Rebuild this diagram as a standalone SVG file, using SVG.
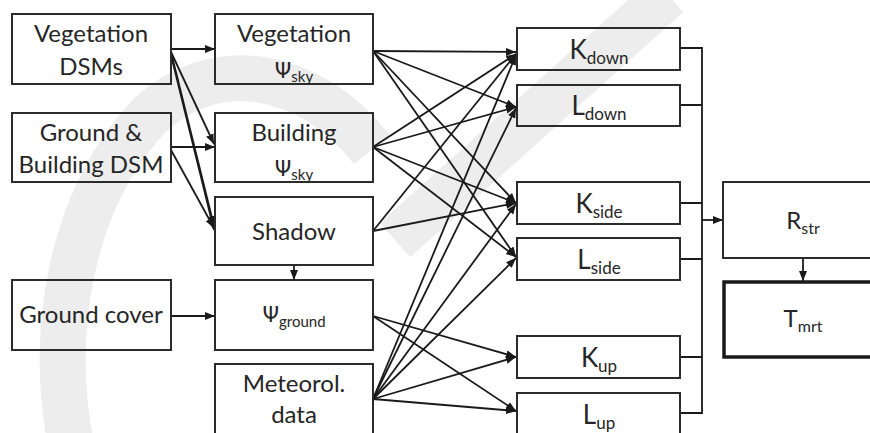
<svg xmlns="http://www.w3.org/2000/svg" width="870" height="433" viewBox="0 0 870 433">
<defs>
<style>
.box{fill:none;stroke:#2b2b2b;stroke-width:2}
.thick{fill:none;stroke:#1a1a1a;stroke-width:3.5}
.t{font-family:Lato,"Noto Sans",sans-serif;font-size:24px;fill:#262626;text-anchor:middle}
.r{font-size:26px}
.s{font-size:24px}
.psi{font-family:"DejaVu Sans","Noto Sans",sans-serif;font-size:21px}
.sub{font-family:Lato,"Noto Sans",sans-serif;font-size:15px}
.wm{fill:none;stroke:#ededed;stroke-width:46}
.c{fill:none;stroke:#1a1a1a;stroke-width:1.8}
.ca{fill:none;stroke:#1a1a1a;stroke-width:1.8;marker-end:url(#ah)}
</style>
<marker id="ah" markerUnits="userSpaceOnUse" markerWidth="11" markerHeight="10" refX="10" refY="5" orient="auto">
<path d="M0,1 L10,5 L0,9 Z" fill="#1a1a1a"/>
</marker>
</defs>
<rect width="870" height="433" fill="#ffffff"/>
<g id="watermark">
<path class="wm" d="M 70 440 C 50 330 70 200 150 115 C 215 55 310 70 372 150"/>
<path class="wm" d="M 668 -5 L 395 240"/>
</g>
<g id="connectors">
<line class="ca" x1="171" y1="49" x2="215" y2="49"/>
<line class="ca" x1="171" y1="52" x2="214" y2="144"/>
<line class="ca" x1="171" y1="52" x2="214" y2="226"/>
<line class="ca" x1="171" y1="55" x2="214" y2="230"/>
<line class="ca" x1="171" y1="147" x2="215" y2="147"/>
<line class="ca" x1="171" y1="150" x2="214" y2="228"/>
<line class="ca" x1="294" y1="265" x2="294" y2="280"/>
<line class="ca" x1="171" y1="316" x2="215" y2="316"/>
<line class="ca" x1="373" y1="51" x2="516" y2="52"/>
<line class="ca" x1="373" y1="51" x2="516" y2="107"/>
<line class="ca" x1="373" y1="51" x2="516" y2="203"/>
<line class="ca" x1="373" y1="51" x2="516" y2="257"/>
<line class="ca" x1="373" y1="147" x2="516" y2="54"/>
<line class="ca" x1="373" y1="147" x2="516" y2="107"/>
<line class="ca" x1="373" y1="147" x2="516" y2="203"/>
<line class="ca" x1="373" y1="147" x2="516" y2="257"/>
<line class="ca" x1="373" y1="231" x2="516" y2="54"/>
<line class="ca" x1="373" y1="231" x2="516" y2="203"/>
<line class="ca" x1="373" y1="316" x2="516" y2="357"/>
<line class="ca" x1="373" y1="316" x2="516" y2="411"/>
<line class="ca" x1="373" y1="399" x2="516" y2="55"/>
<line class="ca" x1="373" y1="399" x2="516" y2="108"/>
<line class="ca" x1="373" y1="399" x2="516" y2="204"/>
<line class="ca" x1="373" y1="399" x2="516" y2="258"/>
<line class="ca" x1="373" y1="399" x2="516" y2="357"/>
<line class="ca" x1="373" y1="399" x2="516" y2="411"/>
<path class="c" d="M680 48 H702 M680 105 H702 M680 203 H702 M680 259 H702 M680 357 H702 M680 413 H702 M702 47 V414"/>
<line class="ca" x1="702" y1="220" x2="723" y2="220"/>
<line class="ca" x1="803" y1="258" x2="803" y2="281"/>
</g>
<g id="veg-dsms">
<rect class="box" x="12" y="14" width="159" height="70"/>
<text class="t" x="91" y="42">Vegetation</text>
<text class="t" x="91" y="75">DSMs</text>
</g>
<g id="ground-building-dsm">
<rect class="box" x="12" y="113" width="159" height="69"/>
<text class="t" x="91" y="141">Ground &amp;</text>
<text class="t" x="91" y="173">Building DSM</text>
</g>
<g id="ground-cover">
<rect class="box" x="12" y="280" width="159" height="70"/>
<text class="t" x="91" y="323">Ground cover</text>
</g>
<g id="veg-psi-sky">
<rect class="box" x="215" y="14" width="158" height="70"/>
<text class="t" x="294" y="42">Vegetation</text>
<text class="t" x="294" y="78"><tspan class="psi">Ψ</tspan><tspan class="sub" dy="4">sky</tspan></text>
</g>
<g id="building-psi-sky">
<rect class="box" x="215" y="113" width="158" height="69"/>
<text class="t" x="294" y="141">Building</text>
<text class="t" x="294" y="176"><tspan class="psi">Ψ</tspan><tspan class="sub" dy="4">sky</tspan></text>
</g>
<g id="shadow">
<rect class="box" x="215" y="197" width="158" height="68"/>
<text class="t" x="294" y="240">Shadow</text>
</g>
<g id="psi-ground">
<rect class="box" x="215" y="280" width="158" height="70"/>
<text class="t" x="294" y="322"><tspan class="psi">Ψ</tspan><tspan class="sub" dy="5">ground</tspan></text>
</g>
<g id="meteorol-data">
<rect class="box" x="215" y="364" width="158" height="80"/>
<text class="t" x="294" y="392">Meteorol.</text>
<text class="t" x="294" y="423">data</text>
</g>
<g id="k-down">
<rect class="box" x="517" y="28" width="163" height="42"/>
<text class="t r" x="599" y="59">K<tspan dy="5" style="font-size:17px">down</tspan></text>
</g>
<g id="l-down">
<rect class="box" x="517" y="85" width="163" height="41"/>
<text class="t r" x="599" y="115">L<tspan dy="5" style="font-size:17px">down</tspan></text>
</g>
<g id="k-side">
<rect class="box" x="517" y="182" width="163" height="42"/>
<text class="t r" x="599" y="213">K<tspan dy="5" style="font-size:17px">side</tspan></text>
</g>
<g id="l-side">
<rect class="box" x="517" y="238" width="163" height="42"/>
<text class="t r" x="599" y="269">L<tspan dy="5" style="font-size:17px">side</tspan></text>
</g>
<g id="k-up">
<rect class="box" x="517" y="336" width="163" height="42"/>
<text class="t r" x="599" y="367">K<tspan dy="5" style="font-size:17px">up</tspan></text>
</g>
<g id="l-up">
<rect class="box" x="517" y="393" width="163" height="42"/>
<text class="t r" x="599" y="424">L<tspan dy="5" style="font-size:17px">up</tspan></text>
</g>
<g id="r-str">
<rect class="box" x="723" y="182" width="170" height="76"/>
<text class="t s" x="803" y="229">R<tspan dy="5" style="font-size:16px">str</tspan></text>
</g>
<g id="t-mrt">
<rect class="thick" x="724" y="282" width="170" height="75"/>
<text class="t s" x="803" y="327">T<tspan dy="5" style="font-size:16px">mrt</tspan></text>
</g>
</svg>
